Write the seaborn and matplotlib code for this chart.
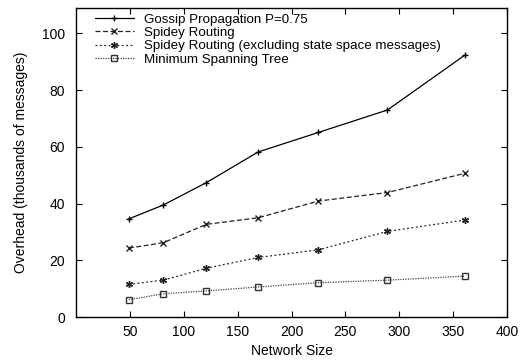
import numpy as np
import pandas as pd
import matplotlib
matplotlib.use("Agg")
import matplotlib.pyplot as plt
import seaborn as sns

# network sizes
network_size = [49, 81, 121, 169, 225, 289, 361]

# overhead in thousands of messages
gossip = [34.6, 39.5, 47.4, 58.2, 65.1, 73.0, 92.4]
spidey = [24.3, 26.2, 32.7, 35.0, 40.9, 43.9, 50.7]
spidey_excl = [11.5, 13.0, 17.2, 21.0, 23.7, 30.2, 34.2]
mst = [6.1, 8.2, 9.2, 10.6, 12.1, 13.0, 14.4]

labels = ["Gossip Propagation P=0.75",
          "Spidey Routing",
          "Spidey Routing (excluding state space messages)",
          "Minimum Spanning Tree"]

FS = 10
LEG_FS = 9.6

sns.set_style("ticks")
plt.rcParams['font.family'] = ['Liberation Sans', 'DejaVu Sans']
plt.rcParams['font.size'] = FS
plt.rcParams['text.color'] = 'black'
plt.rcParams['axes.labelcolor'] = 'black'

df = pd.DataFrame({
    'size': network_size * 4,
    'overhead': gossip + spidey + spidey_excl + mst,
    'series': np.repeat(labels, len(network_size)),
})

styles = [
    dict(color='black', linestyle='-', marker='+', markersize=5,
         markeredgecolor='black'),
    dict(color='#222222', linestyle=(0, (4, 2)), marker='x', markersize=4,
         markeredgecolor='#222222'),
    dict(color='#222222', linestyle=(0, (1.5, 2)), marker=(6, 2, 0), markersize=5,
         markeredgecolor='#222222'),
    dict(color='#444444', linestyle=(0, (1, 1)), marker='s', markersize=4,
         markerfacecolor='none', markeredgecolor='#333333'),
]

fig = plt.figure(figsize=(5.26, 3.6), dpi=100)
ax = fig.add_axes([0.1445, 0.1194, 0.8195, 0.8586])

for label, st in zip(labels, styles):
    sub = df[df['series'] == label]
    sns.lineplot(data=sub, x='size', y='overhead', ax=ax, label=label,
                 linewidth=0.9, markeredgewidth=1.0, **st)

ax.set_xlim(0, 400)
ax.set_ylim(0, 109)
ax.set_xticks(np.arange(50, 401, 50))
ax.set_yticks(np.arange(0, 101, 20))
ax.tick_params(direction='in', length=4, width=0.8, top=True, right=True,
               colors='black', labelsize=FS)
ax.tick_params(axis='y', pad=8)
ax.tick_params(axis='x', pad=6)
ax.set_xlabel('Network Size', fontsize=FS, labelpad=3)
ax.set_ylabel('Overhead (thousands of messages)', fontsize=FS, labelpad=10)
for sp in ax.spines.values():
    sp.set_linewidth(1.0)
    sp.set_color('black')

ax.legend(loc='upper left', frameon=False, handlelength=2.9, handletextpad=0.8,
          labelspacing=0.08, borderaxespad=0.0, fontsize=LEG_FS,
          bbox_to_anchor=(0.032, 1.0))

fig.savefig('out.png', dpi=100)
